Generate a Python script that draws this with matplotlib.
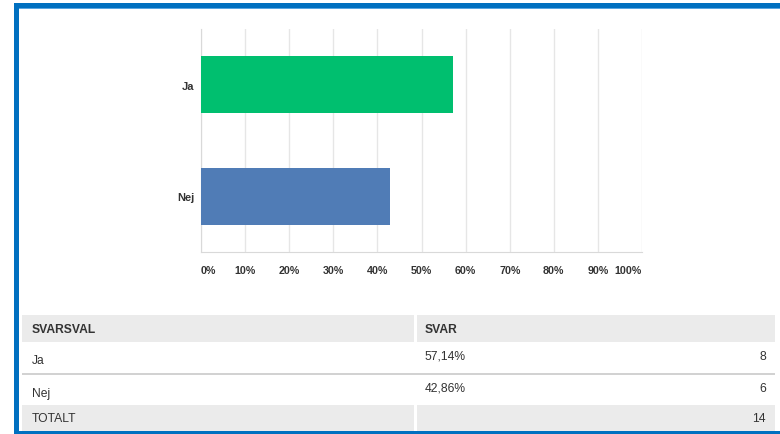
import matplotlib
matplotlib.use('Agg')
import matplotlib.pyplot as plt
from matplotlib.patches import Rectangle

plt.rcParams['font.family'] = ['Liberation Sans', 'DejaVu Sans']

categories = ['Nej', 'Ja']
percents = [42.86, 57.14]
bar_colors = ['#507CB6', '#00BF6F']
ticks = [0, 10, 20, 30, 40, 50, 60, 70, 80, 90, 100]

table_choices = ['Ja', 'Nej']
table_percents = ['57,14%', '42,86%']
table_counts = [8, 6]
total = 14

W, H = 780, 435
fig = plt.figure(figsize=(W / 100, H / 100), dpi=100)


def px(x, y):
    return x / W, 1 - y / H


def rect(x0, y0, x1, y1, color):
    fig.add_artist(Rectangle((x0 / W, 1 - y1 / H), (x1 - x0) / W, (y1 - y0) / H,
                             transform=fig.transFigure, facecolor=color,
                             edgecolor='none', zorder=0))


def text(x, y, s, **kw):
    fx, fy = px(x, y)
    fig.text(fx, fy, s, va='center', fontsize=8.7, color='#333333', **kw)


# bar chart
ax = fig.add_axes([201 / W, 1 - 253 / H, (642 - 201) / W, (253 - 30) / H])
ax.barh(range(len(categories)), percents, height=0.51, color=bar_colors, zorder=3)
ax.set_xlim(0, 100)
ax.set_ylim(-0.5, 1.5)
ax.set_xticks(ticks)
ax.grid(axis='x', color='#E6E6E6', lw=1, zorder=0)
ax.set_axisbelow(True)
for s in ['top', 'right']:
    ax.spines[s].set_visible(False)
ax.spines['left'].set_color('#D9D9D9')
ax.spines['bottom'].set_color('#D9D9D9')
ax.tick_params(length=0)
ax.set_xticklabels([])
ax.set_yticks(range(len(categories)))
ax.set_yticklabels(categories, fontsize=8, fontweight='bold', color='#333333')
ax.tick_params(axis='y', pad=5)

# x tick labels, first one left aligned and last one right aligned like the original
label_y = -(271 - 253) / (253 - 30)
for t in ticks:
    ha = 'center'
    if t == 0:
        ha = 'left'
    if t == 100:
        ha = 'right'
    ax.text(t, label_y, f'{t}%', transform=ax.get_xaxis_transform(), ha=ha,
            va='center', fontsize=7.7, fontweight='bold', color='#333333')

# table
rect(22, 316, 414, 343, '#EBEBEB')
rect(417, 316, 775, 343, '#EBEBEB')
rect(22, 374, 775, 376, '#D2D2D2')
rect(22, 406, 414, 433, '#EBEBEB')
rect(417, 406, 775, 433, '#EBEBEB')

text(32, 330, 'SVARSVAL', fontweight='bold')
text(425, 330, 'SVAR', fontweight='bold')
row_y = [(361, 357), (394, 389)]
for (ly, vy), c, p, n in zip(row_y, table_choices, table_percents, table_counts):
    text(32, ly, c)
    text(425, vy, p)
    text(766, vy, str(n), ha='right')
text(32, 419, 'TOTALT')
text(766, 419, str(total), ha='right')

# blue frame
rect(14, 4, 780, 9, '#0070C0')
rect(19, 9, 780, 10, '#5AA6E0')
rect(14, 4, 19, 435, '#0070C0')
rect(14, 432, 780, 435, '#0070C0')

fig.savefig('out.png', dpi=100)
